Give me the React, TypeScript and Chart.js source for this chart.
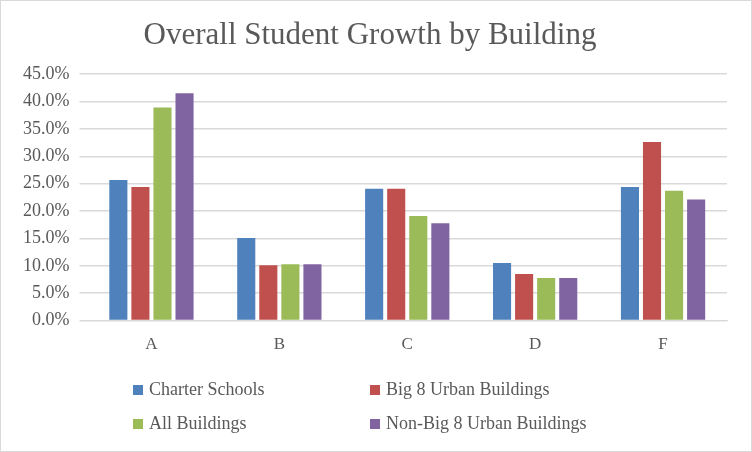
import Chart from 'chart.js/auto';
import { useEffect, useRef } from 'react';

const categories = ['A', 'B', 'C', 'D', 'F'];
const charter = [25.7, 15.1, 24.1, 10.5, 24.4];
const big8 = [24.4, 10.1, 24.1, 8.5, 32.6];
const allBuildings = [38.9, 10.3, 19.1, 7.8, 23.7];
const nonBig8 = [41.5, 10.3, 17.8, 7.8, 22.1];
const seriesNames = ['Charter Schools', 'Big 8 Urban Buildings', 'All Buildings', 'Non-Big 8 Urban Buildings'];
const colors = ['#4f81bd', '#c0504d', '#9bbb59', '#8064a2'];

const font = "'Liberation Serif', 'DejaVu Serif', serif";

const App = () => {
  const chartRef = useRef<HTMLCanvasElement | null>(null);

  useEffect(() => {
    const series = [charter, big8, allBuildings, nonBig8];
    const myChart = new Chart(chartRef.current!, {
      type: 'bar',
      data: {
        labels: categories,
        datasets: series.map((d, i) => ({
          label: seriesNames[i],
          data: d,
          backgroundColor: colors[i],
          barPercentage: 0.82,
          categoryPercentage: 0.69
        }))
      },
      options: {
        animation: false,
        responsive: false,
        layout: { padding: { left: 12, right: 24, top: 10, bottom: 90 } },
        plugins: {
          legend: { display: false },
          tooltip: { enabled: false },
          title: {
            display: true,
            text: 'Overall Student Growth by Building',
            color: '#595959',
            font: { family: font, size: 31, weight: 'normal' },
            padding: { top: 6, bottom: 20 }
          }
        },
        scales: {
          x: {
            grid: { display: false },
            border: { color: '#d9d9d9' },
            ticks: { color: '#595959', font: { family: font, size: 17 }, padding: 6 }
          },
          y: {
            min: 0,
            max: 45,
            ticks: {
              stepSize: 5,
              color: '#595959',
              font: { family: font, size: 18 },
              padding: 10,
              callback: (v) => Number(v).toFixed(1) + '%'
            },
            grid: { color: '#d9d9d9', lineWidth: 1.5 },
            border: { display: false }
          }
        }
      }
    });
    return () => {
      myChart.destroy();
    };
  }, []);

  const legendItem = (i: number, left: number, top: number) => (
    <div key={i} style={{ position: 'absolute', left, top, display: 'flex', alignItems: 'center', fontFamily: font, fontSize: 18, color: '#595959' }}>
      <span style={{ display: 'inline-block', width: 10, height: 10, background: colors[i], marginRight: 6 }} />
      {seriesNames[i]}
    </div>
  );

  return (
    <div style={{ position: 'absolute', left: 0, top: 0, width: 750, height: 450, border: '1px solid #d9d9d9', background: '#fff' }}>
      <canvas ref={chartRef} width={750} height={450} />
      {legendItem(0, 132, 378)}
      {legendItem(1, 369, 378)}
      {legendItem(2, 132, 412)}
      {legendItem(3, 369, 412)}
    </div>
  );
};

export default App;
